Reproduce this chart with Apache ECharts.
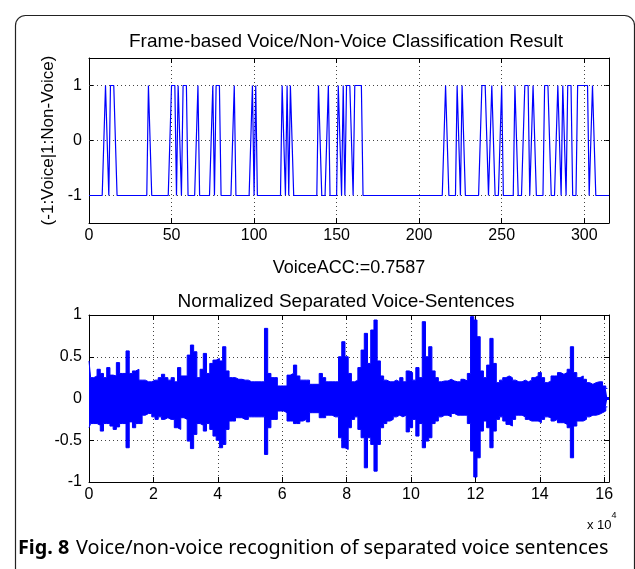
<!DOCTYPE html>
<html>
<head>
<meta charset="utf-8">
<script src="https://cdn.jsdelivr.net/npm/echarts@6/dist/echarts.min.js"></script>
<style>
  html, body { margin: 0; padding: 0; background: #fff; }
  #chart { width: 635px; height: 569px; }
</style>
</head>
<body>
<div id="chart"></div>
<script>
// 上图：逐帧分类结果（1 = Non-Voice，-1 = Voice），按图读出的取值为 1 的帧区间
const frameMax = 315;
const nonVoiceRuns = [
  [10, 11], [13, 16], [36, 37], [50, 52], [54, 55], [57, 59], [66, 66],
  [75, 75], [77, 79], [88, 88], [99, 99], [101, 101], [117, 118], [120, 120],
  [122, 123], [139, 140], [145, 145], [151, 152], [154, 154], [156, 159],
  [161, 165], [216, 217], [223, 224], [226, 227], [238, 241], [244, 245],
  [250, 250], [258, 259], [264, 266], [269, 270], [276, 279], [284, 285],
  [287, 288], [290, 292], [296, 302], [305, 306]
];
const topXTicks = [0, 50, 100, 150, 200, 250, 300];
const topYTicks = [-1, 0, 1];

// 下图：归一化语音波形，每 1000 个采样点读一次上/下包络
const envStep = 1000;
const upperEnv = [
  0.45, 0.25, 0.27, 0.35, 0.30, 0.25, 0.37, 0.28, 0.27, 0.43,
  0.30, 0.30, 0.57, 0.30, 0.33, 0.35, 0.22, 0.22, 0.20, 0.20,
  0.22, 0.22, 0.25, 0.29, 0.25, 0.22, 0.25, 0.20, 0.37, 0.27,
  0.27, 0.52, 0.64, 0.56, 0.25, 0.35, 0.54, 0.30, 0.42, 0.46,
  0.48, 0.45, 0.62, 0.33, 0.25, 0.25, 0.23, 0.23, 0.22, 0.22,
  0.20, 0.20, 0.20, 0.20, 0.20, 0.84, 0.30, 0.25, 0.25, 0.15,
  0.15, 0.15, 0.28, 0.30, 0.40, 0.27, 0.22, 0.22, 0.22, 0.17,
  0.17, 0.17, 0.30, 0.25, 0.20, 0.20, 0.20, 0.20, 0.50, 0.68,
  0.50, 0.30, 0.20, 0.22, 0.37, 0.58, 0.78, 0.42, 0.82, 0.94,
  0.45, 0.27, 0.22, 0.20, 0.20, 0.22, 0.20, 0.25, 0.20, 0.33,
  0.31, 0.22, 0.37, 0.25, 0.92, 0.50, 0.62, 0.33, 0.25, 0.20,
  0.21, 0.21, 0.23, 0.21, 0.20, 0.20, 0.23, 0.21, 0.30, 0.98,
  0.94, 0.74, 0.33, 0.25, 0.40, 0.72, 0.42, 0.19, 0.22, 0.25,
  0.27, 0.25, 0.22, 0.20, 0.20, 0.22, 0.20, 0.22, 0.25, 0.27,
  0.31, 0.25, 0.19, 0.21, 0.27, 0.27, 0.31, 0.29, 0.31, 0.35,
  0.62, 0.31, 0.25, 0.27, 0.23, 0.19, 0.17, 0.19, 0.20, 0.20,
  0.15, 0.12
];
const lowerEnv = [
  -0.35, -0.30, -0.30, -0.32, -0.39, -0.30, -0.30, -0.33, -0.37, -0.34,
  -0.30, -0.30, -0.59, -0.28, -0.35, -0.30, -0.30, -0.20, -0.18, -0.18,
  -0.22, -0.25, -0.22, -0.25, -0.23, -0.25, -0.25, -0.35, -0.37, -0.23,
  -0.25, -0.51, -0.60, -0.43, -0.30, -0.32, -0.39, -0.30, -0.37, -0.45,
  -0.50, -0.59, -0.55, -0.37, -0.27, -0.27, -0.23, -0.23, -0.25, -0.25,
  -0.22, -0.22, -0.22, -0.22, -0.22, -0.67, -0.35, -0.25, -0.25, -0.15,
  -0.15, -0.17, -0.27, -0.27, -0.30, -0.30, -0.27, -0.25, -0.28, -0.17,
  -0.17, -0.17, -0.23, -0.23, -0.20, -0.20, -0.22, -0.22, -0.47, -0.59,
  -0.61, -0.35, -0.25, -0.22, -0.37, -0.47, -0.83, -0.47, -0.55, -0.87,
  -0.55, -0.35, -0.30, -0.27, -0.25, -0.22, -0.20, -0.22, -0.20, -0.40,
  -0.35, -0.25, -0.45, -0.30, -0.59, -0.51, -0.47, -0.30, -0.27, -0.22,
  -0.20, -0.20, -0.22, -0.18, -0.20, -0.20, -0.20, -0.20, -0.30, -0.63,
  -0.94, -0.71, -0.39, -0.27, -0.35, -0.59, -0.39, -0.25, -0.22, -0.27,
  -0.31, -0.33, -0.25, -0.20, -0.20, -0.22, -0.25, -0.27, -0.27, -0.27,
  -0.29, -0.25, -0.22, -0.23, -0.27, -0.25, -0.29, -0.29, -0.31, -0.35,
  -0.71, -0.33, -0.27, -0.27, -0.25, -0.22, -0.20, -0.20, -0.19, -0.17,
  -0.15, -0.10
];
const waveXMax = 161500;
const waveXInterval = 20000;

const topTitle = "Frame-based Voice/Non-Voice Classification Result";
const topYName = "(-1:Voice|1:Non-Voice)";
const topXName = "VoiceACC:=0.7587";
const bottomTitle = "Normalized Separated Voice-Sentences";

// ---- 由上面的数组构建序列 ----
const frameData = [];
for (let f = 0; f <= frameMax; f++) {
  const isNonVoice = nonVoiceRuns.some(r => f >= r[0] && f <= r[1]);
  frameData.push([f, isNonVoice ? 1 : -1]);
}
// 上包络向下填到 0，下包络向上填到 0，两块拼成整条波形带
const upperData = upperEnv.map((v, k) => [k * envStep, v]);
const lowerData = lowerEnv.map((v, k) => [k * envStep, v]);

const FONT = "'Liberation Sans', Arial, sans-serif";
const BLUE = "#0000ff";
const gridLine = { show: true, lineStyle: { color: "#444", type: [1, 3], width: 1 } };
const boxLine = { show: true, onZero: false, lineStyle: { color: "#000", width: 1 } };
const tickIn = { show: true, inside: true, length: 5, lineStyle: { color: "#000" } };
const labelStyle = { color: "#000", fontSize: 16, fontFamily: FONT };

function envSeries(data, withSeam) {
  const s = {
    type: "line", xAxisIndex: 2, yAxisIndex: 2, data,
    showSymbol: false, clip: true, step: "middle",
    lineStyle: { color: BLUE, width: 1 },
    areaStyle: { color: BLUE, opacity: 1, origin: 0 },
    z: 3
  };
  if (withSeam) {
    // 两块面积在 0 处相接，补一条蓝线盖住接缝
    s.markLine = {
      silent: true, symbol: "none", label: { show: false },
      lineStyle: { color: BLUE, type: "solid", width: 3 },
      data: [{ yAxis: 0 }]
    };
  }
  return s;
}

const chart = echarts.init(document.getElementById("chart"), null, { renderer: "canvas" });

chart.setOption({
  animation: false,
  backgroundColor: "#fff",
  textStyle: { fontFamily: FONT },
  title: [
    { text: topTitle, left: 341, top: 27, textAlign: "center",
      textStyle: { fontSize: 19, fontWeight: "normal", color: "#000", fontFamily: FONT } },
    { text: bottomTitle, left: 341, top: 287, textAlign: "center",
      textStyle: { fontSize: 19, fontWeight: "normal", color: "#000", fontFamily: FONT } }
  ],
  grid: [
    { left: 89, top: 58, width: 520, height: 165 },
    { left: 89, top: 315, width: 520, height: 167 }
  ],
  xAxis: [
    { gridIndex: 0, type: "value", min: 0, max: frameMax, interval: 50,
      axisLine: boxLine, axisTick: tickIn, splitLine: gridLine,
      axisLabel: { ...labelStyle, margin: 5, customValues: topXTicks },
      name: topXName, nameLocation: "middle", nameGap: 36,
      nameTextStyle: { color: "#000", fontSize: 18, fontFamily: FONT } },
    { gridIndex: 0, type: "value", position: "top", min: 0, max: frameMax, interval: 50,
      axisLine: boxLine, axisTick: tickIn, axisLabel: { show: false }, splitLine: { show: false } },
    { gridIndex: 1, type: "value", min: 0, max: waveXMax, interval: waveXInterval,
      axisLine: boxLine, axisTick: tickIn, splitLine: gridLine,
      axisLabel: { ...labelStyle, margin: 5, formatter: v => String(v / 10000) } },
    { gridIndex: 1, type: "value", position: "top", min: 0, max: waveXMax, interval: waveXInterval,
      axisLine: boxLine, axisTick: tickIn, axisLabel: { show: false }, splitLine: { show: false } }
  ],
  yAxis: [
    { gridIndex: 0, type: "value", min: -1.5, max: 1.5,
      axisLine: boxLine,
      axisTick: { ...tickIn, customValues: topYTicks },
      axisLabel: { ...labelStyle, margin: 7, customValues: topYTicks },
      splitLine: { show: false },
      name: topYName, nameLocation: "middle", nameGap: 20, nameRotate: 90,
      nameTextStyle: { color: "#000", fontSize: 17, fontFamily: FONT } },
    { gridIndex: 0, type: "value", position: "right", min: -1.5, max: 1.5,
      axisLine: boxLine, axisTick: { ...tickIn, customValues: topYTicks },
      axisLabel: { show: false }, splitLine: { show: false } },
    { gridIndex: 1, type: "value", min: -1, max: 1, interval: 0.5,
      axisLine: boxLine, axisTick: tickIn, splitLine: gridLine,
      axisLabel: { ...labelStyle, margin: 7 } },
    { gridIndex: 1, type: "value", position: "right", min: -1, max: 1, interval: 0.5,
      axisLine: boxLine, axisTick: tickIn, axisLabel: { show: false }, splitLine: { show: false } }
  ],
  series: [
    {
      type: "line", xAxisIndex: 0, yAxisIndex: 0, data: frameData,
      showSymbol: false, lineStyle: { color: BLUE, width: 1.2 }, z: 3,
      markLine: {
        silent: true, symbol: "none", label: { show: false },
        lineStyle: { color: "#444", type: [1, 3], width: 1 },
        data: topYTicks.map(v => ({ yAxis: v })),
        z: 1
      }
    },
    envSeries(upperData, true),
    envSeries(lowerData, false)
  ],
  graphic: [
    { type: "rect", left: 13, top: 13, z: -1,
      shape: { width: 619, height: 570, r: 10 },
      style: { fill: "none", stroke: "#222", lineWidth: 1.2 } },
    { type: "text", left: 587, top: 511,
      style: { text: "{b|x 10}{s|4}", fill: "#000",
        rich: {
          b: { fontSize: 13, fontFamily: FONT, padding: [8, 0, 0, 0] },
          s: { fontSize: 9, fontFamily: FONT, verticalAlign: "top" }
        } } },
    { type: "text", left: 18, top: 538,
      style: { text: "{b|Fig. 8}  {n|Voice/non-voice recognition of separated voice sentences}",
        fill: "#000",
        rich: {
          b: { fontSize: 19.8, fontWeight: "bold", fontFamily: "'Noto Sans', sans-serif" },
          n: { fontSize: 19.8, fontFamily: "'Noto Sans', sans-serif" }
        } } }
  ]
});
</script>
</body>
</html>
